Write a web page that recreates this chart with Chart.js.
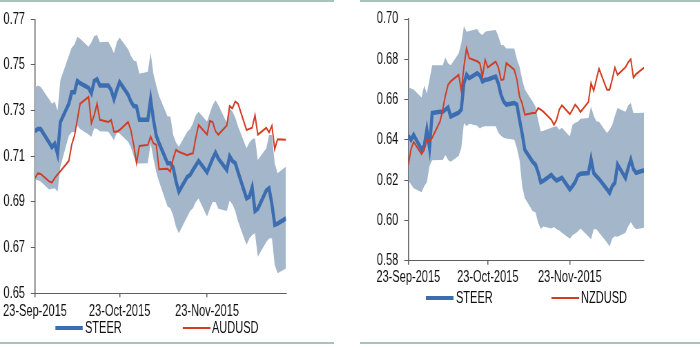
<!DOCTYPE html>
<html>
<head>
<meta charset="utf-8">
<script src="https://cdn.jsdelivr.net/npm/chart.js@4.4.1/dist/chart.umd.min.js"></script>
<style>
  html, body { margin: 0; padding: 0; background: #fff; }
  body { width: 700px; height: 347px; position: relative; overflow: hidden; font-family: 'Liberation Sans', Arial, sans-serif; }
  .rule { position: absolute; height: 2px; background: #a7c4b8; }
  .panel { position: absolute; top: 0; width: 490px; height: 347px; transform: scaleX(0.69); transform-origin: 0 0; }
  .panel canvas { position: absolute; left: 0; top: 0; }
  .swatch { position: absolute; }
  .label { position: absolute; font-size: 16px; line-height: 16px; color: #111; white-space: nowrap; }
</style>
</head>
<body>
<div class="rule" style="left:0;top:0;width:334px"></div>
<div class="rule" style="left:0;top:342px;width:334px"></div>
<div class="rule" style="left:360px;top:0;width:340px"></div>
<div class="rule" style="left:360px;top:342px;width:340px"></div>

<div class="panel" id="panel-aud" style="left:0"><canvas id="chart-aud" width="490" height="347"></canvas></div>
<div class="panel" id="panel-nzd" style="left:350px"><canvas id="chart-nzd" width="490" height="347"></canvas></div>

<script>
// trading days, counted in calendar days from 23-Sep-2015
const tradingDays = [0, 1, 2, 5, 6, 7, 8, 9, 12, 13, 14, 15, 16, 19, 20, 21, 22, 23, 26, 27, 28, 29, 30,
  33, 34, 35, 36, 37, 40, 41, 42, 43, 44, 47, 48, 49, 50, 51, 54, 55, 56, 57, 58, 61, 62, 63, 64, 65,
  68, 69, 70, 71, 72, 75, 76, 77, 78, 79, 82, 83, 84, 85, 86, 89];
const xTickDays = [0, 30, 61];
const xTickLabels = ['23-Sep-2015', '23-Oct-2015', '23-Nov-2015'];

const audTicks = [0.65, 0.67, 0.69, 0.71, 0.73, 0.75, 0.77];
const nzdTicks = [0.58, 0.60, 0.62, 0.64, 0.66, 0.68, 0.70];

const audSteer = [0.721, 0.722, 0.722, 0.716, 0.714, 0.7155, 0.711, 0.725, 0.733, 0.738, 0.738, 0.743, 0.742,
  0.740, 0.7376, 0.743, 0.7437, 0.741, 0.741, 0.739, 0.735, 0.739, 0.7425, 0.737, 0.734, 0.732, 0.7318, 0.726,
  0.726, 0.735, 0.726, 0.719, 0.7157, 0.707, 0.707, 0.705, 0.699, 0.6945, 0.701, 0.7018, 0.704, 0.706, 0.708,
  0.703, 0.706, 0.709, 0.7116, 0.709, 0.704, 0.710, 0.708, 0.707, 0.703, 0.6916, 0.6923, 0.6964, 0.686, 0.687,
  0.695, 0.696, 0.689, 0.680, 0.6805, 0.6828];
const audSteerHigh = [0.740, 0.741, 0.7405, 0.735, 0.733, 0.734, 0.730, 0.7434, 0.754, 0.7575, 0.759, 0.7624, 0.7615,
  0.758, 0.760, 0.7627, 0.7631, 0.760, 0.7602, 0.758, 0.7551, 0.760, 0.762, 0.7569, 0.754, 0.752, 0.7515, 0.7461,
  0.747, 0.7554, 0.746, 0.741, 0.7364, 0.7274, 0.7274, 0.7193, 0.716, 0.7142, 0.7208, 0.722, 0.7245, 0.728, 0.7295,
  0.7252, 0.729, 0.7325, 0.7346, 0.7325, 0.7247, 0.731, 0.7296, 0.727, 0.723, 0.7135, 0.716, 0.7175, 0.7179, 0.7084,
  0.7135, 0.7193, 0.7193, 0.707, 0.7026, 0.7055];
const audSteerLow = [0.6996, 0.6995, 0.699, 0.6955, 0.6958, 0.696, 0.6945, 0.7055, 0.719, 0.7205, 0.7208, 0.7235, 0.722,
  0.7195, 0.7186, 0.7223, 0.722, 0.721, 0.7208, 0.719, 0.717, 0.7205, 0.720, 0.7164, 0.714, 0.710, 0.7069, 0.7069,
  0.707, 0.7157, 0.709, 0.703, 0.6989, 0.688, 0.6872, 0.684, 0.679, 0.6763, 0.6836, 0.686, 0.6872, 0.690, 0.6915,
  0.6836, 0.687, 0.690, 0.690, 0.687, 0.686, 0.6905, 0.689, 0.686, 0.6814, 0.6712, 0.674, 0.6755, 0.6763, 0.666,
  0.6725, 0.674, 0.6741, 0.6625, 0.6588, 0.6609];
const audSpot = [0.7004, 0.7025, 0.7023, 0.699, 0.6985, 0.7005, 0.702, 0.7035, 0.708, 0.715, 0.719, 0.726, 0.733,
  0.736, 0.7245, 0.728, 0.733, 0.726, 0.725, 0.7259, 0.7208, 0.7208, 0.7215, 0.725, 0.7215, 0.715, 0.707, 0.7145,
  0.715, 0.7186, 0.7157, 0.715, 0.7043, 0.7045, 0.7033, 0.709, 0.7128, 0.712, 0.7105, 0.711, 0.7113, 0.718, 0.7237,
  0.7195, 0.7255, 0.725, 0.721, 0.7195, 0.7235, 0.732, 0.731, 0.734, 0.733, 0.7215, 0.722, 0.7225, 0.728, 0.7195,
  0.7225, 0.7205, 0.7234, 0.7131, 0.7175, 0.7172];

const nzdSteer = [0.642, 0.640, 0.6425, 0.6352, 0.637, 0.645, 0.636, 0.6533, 0.654, 0.654, 0.655, 0.6561, 0.6516,
  0.6535, 0.655, 0.6682, 0.6723, 0.6706, 0.6731, 0.672, 0.669, 0.6698, 0.670, 0.6714, 0.668, 0.6624, 0.659, 0.6575,
  0.6583, 0.6575, 0.650, 0.643, 0.635, 0.629, 0.6277, 0.624, 0.619, 0.6197, 0.6226, 0.621, 0.6198, 0.6205, 0.6211,
  0.6154, 0.617, 0.619, 0.6222, 0.6232, 0.6235, 0.6305, 0.6236, 0.622, 0.6206, 0.6155, 0.6137, 0.617, 0.6187, 0.6277,
  0.6211, 0.626, 0.6302, 0.6255, 0.6236, 0.6249];
const nzdSteerHigh = [0.6664, 0.6655, 0.665, 0.661, 0.667, 0.663, 0.670, 0.677, 0.677, 0.677, 0.6809, 0.678, 0.677,
  0.6829, 0.688, 0.6965, 0.6937, 0.694, 0.695, 0.6929, 0.692, 0.6937, 0.694, 0.6945, 0.6915, 0.6871, 0.687, 0.6854,
  0.6854, 0.680, 0.6763, 0.670, 0.665, 0.6589, 0.6566, 0.650, 0.6442, 0.6445, 0.646, 0.6465, 0.6467, 0.645, 0.646,
  0.6417, 0.6475, 0.6485, 0.649, 0.6505, 0.6508, 0.6566, 0.652, 0.6492, 0.649, 0.6434, 0.645, 0.6475, 0.652, 0.6558,
  0.654, 0.657, 0.6583, 0.6533, 0.6533, 0.6534];
const nzdSteerLow = [0.620, 0.618, 0.616, 0.614, 0.617, 0.619, 0.627, 0.6299, 0.630, 0.630, 0.6325, 0.630, 0.6291,
  0.632, 0.636, 0.6484, 0.6468, 0.648, 0.647, 0.6456, 0.6465, 0.6468, 0.6468, 0.6468, 0.6435, 0.642, 0.641, 0.6407,
  0.640, 0.636, 0.630, 0.617, 0.611, 0.6045, 0.604, 0.599, 0.5958, 0.597, 0.596, 0.5967, 0.5956, 0.595, 0.5939,
  0.5909, 0.5926, 0.5935, 0.5945, 0.596, 0.592, 0.5906, 0.5956, 0.5956, 0.594, 0.589, 0.587, 0.591, 0.5922, 0.5919,
  0.5939, 0.597, 0.5992, 0.597, 0.5956, 0.5964];
const nzdSpot = [0.6277, 0.6352, 0.639, 0.633, 0.635, 0.640, 0.6393, 0.641, 0.6492, 0.655, 0.662, 0.6673, 0.669,
  0.6723, 0.6644, 0.6764, 0.6855, 0.6805, 0.679, 0.678, 0.6714, 0.6797, 0.676, 0.6789, 0.676, 0.6698, 0.670, 0.6781,
  0.6748, 0.670, 0.6615, 0.658, 0.6525, 0.6533, 0.6533, 0.6558, 0.655, 0.654, 0.650, 0.6475, 0.650, 0.655, 0.6571,
  0.6528, 0.655, 0.6575, 0.656, 0.6538, 0.6588, 0.6682, 0.6644, 0.670, 0.6753, 0.6649, 0.6649, 0.670, 0.6759, 0.6723,
  0.676, 0.6785, 0.680, 0.6709, 0.6726, 0.6759];

const BLUE = '#3c6db1';
const RED = '#d23c22';
const BAND = '#a3b6ca';
const AXIS = '#5f5f5f';
const FONT_FAMILY = "'Liberation Sans', Arial, sans-serif";

function toPoints(values) {
  return tradingDays.map((day, i) => ({ x: day, y: values[i] }));
}

function addLegend(panel, items, centerY) {
  items.forEach(item => {
    const swatch = document.createElement('div');
    swatch.className = 'swatch';
    swatch.style.left = `${item.swatchX}px`;
    swatch.style.width = `${item.swatchW}px`;
    swatch.style.height = `${item.thickness}px`;
    swatch.style.top = `${centerY - item.thickness / 2}px`;
    swatch.style.background = item.color;
    panel.appendChild(swatch);

    const label = document.createElement('div');
    label.className = 'label';
    label.style.left = `${item.textX}px`;
    label.style.top = `${centerY - 8}px`;
    label.textContent = item.name;
    panel.appendChild(label);
  });
}

// canvases are drawn wide and squeezed horizontally, like the original export
function drawPanel(cfg) {
  const ctx = document.getElementById(cfg.canvasId).getContext('2d');
  const tickFont = { family: FONT_FAMILY, size: 16 };

  new Chart(ctx, {
    type: 'line',
    data: {
      datasets: [
        {
          label: 'STEER',
          data: toPoints(cfg.steer),
          borderColor: BLUE,
          borderWidth: 4.5,
          pointRadius: 0,
          fill: false,
          order: 2
        },
        {
          label: cfg.spotName,
          data: toPoints(cfg.spot),
          borderColor: RED,
          borderWidth: 2,
          pointRadius: 0,
          fill: false,
          order: 1
        },
        {
          label: 'high',
          data: toPoints(cfg.high),
          borderWidth: 0,
          pointRadius: 0,
          backgroundColor: BAND,
          fill: '+1',
          order: 3
        },
        {
          label: 'low',
          data: toPoints(cfg.low),
          borderWidth: 0,
          pointRadius: 0,
          fill: false,
          order: 3
        }
      ]
    },
    options: {
      responsive: false,
      animation: false,
      devicePixelRatio: 1,
      events: [],
      layout: {
        padding: { left: 0, top: cfg.padTop, right: cfg.padRight, bottom: 0 }
      },
      plugins: {
        legend: { display: false },
        tooltip: { enabled: false }
      },
      elements: { line: { tension: 0 } },
      scales: {
        x: {
          type: 'linear',
          min: 0,
          max: 89,
          grid: { drawOnChartArea: false, tickLength: 4, color: AXIS, lineWidth: 1.5 },
          border: { display: true, color: AXIS, width: 1 },
          ticks: {
            autoSkip: false,
            maxRotation: 0,
            minRotation: 0,
            padding: cfg.xTickPadding,
            color: '#111',
            font: tickFont,
            callback: (value, index) => xTickLabels[index]
          },
          afterBuildTicks: axis => {
            axis.ticks = xTickDays.map(value => ({ value }));
          },
          afterFit: axis => {
            axis.height = cfg.xAxisHeight;
            axis.paddingLeft = 0;
            axis.paddingRight = 0;
          }
        },
        y: {
          min: cfg.yTicks[0],
          max: cfg.yTicks[cfg.yTicks.length - 1],
          grid: { drawOnChartArea: false, tickLength: 6, color: AXIS, lineWidth: 1 },
          border: { display: true, color: AXIS, width: 1.5 },
          ticks: {
            padding: 8.5,
            color: '#111',
            font: tickFont,
            callback: (value, index) => cfg.yTicks[index].toFixed(2)
          },
          afterBuildTicks: axis => {
            axis.ticks = cfg.yTicks.map(value => ({ value }));
          },
          afterFit: axis => {
            axis.width = cfg.yAxisWidth;
            axis.paddingTop = 0;
            axis.paddingBottom = 0;
          }
        }
      }
    }
  });

  addLegend(document.getElementById(cfg.panelId), [
    { name: 'STEER', color: BLUE, thickness: 4, swatchX: cfg.legend[0], swatchW: 40, textX: cfg.legend[1] },
    { name: cfg.spotName, color: RED, thickness: 2, swatchX: cfg.legend[2], swatchW: 40, textX: cfg.legend[3] }
  ], cfg.legendY);
}

drawPanel({
  canvasId: 'chart-aud',
  panelId: 'panel-aud',
  spotName: 'AUDUSD',
  steer: audSteer,
  high: audSteerHigh,
  low: audSteerLow,
  spot: audSpot,
  yTicks: audTicks,
  padTop: 19.3,
  padRight: 75.5,
  yAxisWidth: 50.7,
  xAxisHeight: 53.7,
  xTickPadding: 5,
  legend: [79.7, 123.2, 265.2, 307.2],
  legendY: 328
});

drawPanel({
  canvasId: 'chart-nzd',
  panelId: 'panel-nzd',
  spotName: 'NZDUSD',
  steer: nzdSteer,
  high: nzdSteerHigh,
  low: nzdSteerLow,
  spot: nzdSpot,
  yTicks: nzdTicks,
  padTop: 19,
  padRight: 63.9,
  yAxisWidth: 84.5,
  xAxisHeight: 86.3,
  xTickPadding: 3.4,
  legend: [110.1, 153.6, 292.3, 334.8],
  legendY: 298
});
</script>
</body>
</html>
